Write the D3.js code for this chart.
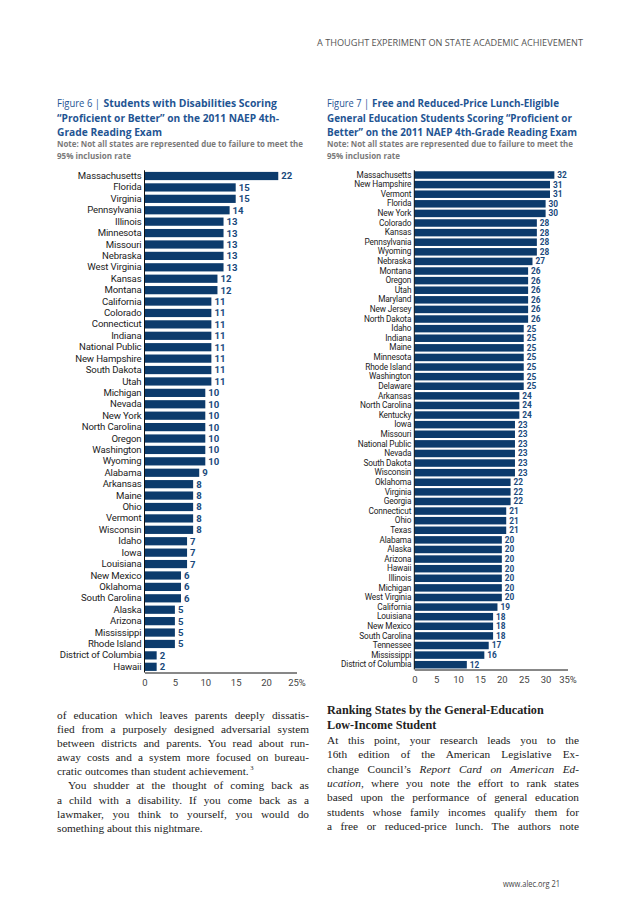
<!DOCTYPE html>
<html>
<head>
<meta charset="utf-8">
<script src="https://cdn.jsdelivr.net/npm/d3@7"></script>
<style>
  body { margin: 0; background: #fff; }
  svg { display: block; }
</style>
</head>
<body>
<svg width="638" height="912"></svg>
<script>
// Figure 6 data
const fig6States = ["Massachusetts", "Florida", "Virginia", "Pennsylvania", "Illinois", "Minnesota", "Missouri", "Nebraska", "West Virginia", "Kansas", "Montana", "California", "Colorado", "Connecticut", "Indiana", "National Public", "New Hampshire", "South Dakota", "Utah", "Michigan", "Nevada", "New York", "North Carolina", "Oregon", "Washington", "Wyoming", "Alabama", "Arkansas", "Maine", "Ohio", "Vermont", "Wisconsin", "Idaho", "Iowa", "Louisiana", "New Mexico", "Oklahoma", "South Carolina", "Alaska", "Arizona", "Mississippi", "Rhode Island", "District of Columbia", "Hawaii"];
const fig6Values = [22, 15, 15, 14, 13, 13, 13, 13, 13, 12, 12, 11, 11, 11, 11, 11, 11, 11, 11, 10, 10, 10, 10, 10, 10, 10, 9, 8, 8, 8, 8, 8, 7, 7, 7, 6, 6, 6, 5, 5, 5, 5, 2, 2];
const fig6Ticks = [0, 5, 10, 15, 20, 25];

// Figure 7 data
const fig7States = ["Massachusetts", "New Hampshire", "Vermont", "Florida", "New York", "Colorado", "Kansas", "Pennsylvania", "Wyoming", "Nebraska", "Montana", "Oregon", "Utah", "Maryland", "New Jersey", "North Dakota", "Idaho", "Indiana", "Maine", "Minnesota", "Rhode Island", "Washington", "Delaware", "Arkansas", "North Carolina", "Kentucky", "Iowa", "Missouri", "National Public", "Nevada", "South Dakota", "Wisconsin", "Oklahoma", "Virginia", "Georgia", "Connecticut", "Ohio", "Texas", "Alabama", "Alaska", "Arizona", "Hawaii", "Illinois", "Michigan", "West Virginia", "California", "Louisiana", "New Mexico", "South Carolina", "Tennessee", "Mississippi", "District of Columbia"];
const fig7Values = [32, 31, 31, 30, 30, 28, 28, 28, 28, 27, 26, 26, 26, 26, 26, 26, 25, 25, 25, 25, 25, 25, 25, 24, 24, 24, 23, 23, 23, 23, 23, 23, 22, 22, 22, 21, 21, 21, 20, 20, 20, 20, 20, 20, 20, 19, 18, 18, 18, 17, 16, 12];
const fig7Ticks = [0, 5, 10, 15, 20, 25, 30, 35];

const svg = d3.select("svg");
const navy = "#0c3b6c";
const titleBlue = "#1f5593";
const sans = "'Open Sans', 'Noto Sans', sans-serif";
const chartFont = "Roboto, 'Noto Sans', sans-serif";
const serif = "'Liberation Serif', 'DejaVu Serif', serif";

// fixed-width text line
const fitText = (x, y, txt, len, opts) => {
  const t = svg.append("text")
    .attr("x", x).attr("y", y)
    .attr("font-family", opts.family || sans)
    .attr("font-size", opts.size)
    .attr("font-weight", opts.weight || "normal")
    .attr("fill", opts.fill || "#222")
    .text(txt);
  if (len) t.attr("textLength", len).attr("lengthAdjust", "spacingAndGlyphs");
  return t;
};

// header and footer
fitText(317, 46, "A THOUGHT EXPERIMENT ON STATE ACADEMIC ACHIEVEMENT", 266, { size: 9, fill: "#555" });
fitText(503, 887, "www.alec.org  21", 57, { size: 9.5, fill: "#444" });

// figure titles
const title = (x, head, lines, lens, noteLines, noteLens) => {
  fitText(x, 107, head[0], head[1], { size: 11, fill: titleBlue });
  fitText(head[2], 107, head[3], head[4], { size: 11, weight: "bold", fill: titleBlue });
  lines.forEach((ln, i) => {
    fitText(x, 107 + (i + 1) * 14.7, ln, lens[i], { size: 11, weight: "bold", fill: titleBlue });
  });
  noteLines.forEach((ln, i) => {
    fitText(x, 147 + i * 11.5, ln, noteLens[i], { size: 8, weight: "bold", fill: "#7a7a7a" });
  });
};

title(57,
  ["Figure 6 |", 43, 103.5, "Students with Disabilities Scoring", 173.5],
  ["\u201CProficient or Better\u201D on the 2011 NAEP 4th-", "Grade Reading Exam"],
  [222, 105],
  ["Note: Not all states are represented due to failure to meet the", "95% inclusion rate"], [246, 74]);

title(327,
  ["Figure 7 |", 42, 372, "Free and Reduced-Price Lunch-Eligible", 187],
  ["General Education Students Scoring \u201CProficient or", "Better\u201D on the 2011 NAEP 4th-Grade Reading Exam"],
  [245, 250],
  ["Note: Not all states are represented due to failure to meet the", "95% inclusion rate"], [246, 73]);

// bar chart
const render = (states, values, ticks, x0, x1, yTop, yBot, pad, fs) => {
  const xScale = d3.scaleLinear()
    .domain([0, ticks[ticks.length - 1]])
    .range([x0, x1]);
  const yScale = d3.scaleBand()
    .domain(states)
    .range([yTop, yBot])
    .paddingInner(pad)
    .paddingOuter(pad / 2);

  const g = svg.append("g");

  g.selectAll("rect")
    .data(values)
    .enter()
    .append("rect")
    .attr("x", xScale(0))
    .attr("y", (d, i) => yScale(states[i]))
    .attr("width", (d) => xScale(d) - xScale(0))
    .attr("height", yScale.bandwidth())
    .attr("fill", navy);

  g.selectAll(".val")
    .data(values)
    .enter()
    .append("text")
    .attr("class", "val")
    .attr("x", (d) => xScale(d) + 3)
    .attr("y", (d, i) => yScale(states[i]) + yScale.bandwidth() / 2)
    .attr("dy", "0.36em")
    .attr("font-family", chartFont)
    .attr("font-size", fs)
    .attr("font-weight", "bold")
    .attr("fill", "#1a4a7c")
    .text((d) => d);

  // category axis
  const yAxisG = g.append("g")
    .attr("transform", `translate(${x0},0)`)
    .call(d3.axisLeft(yScale).tickSize(0).tickPadding(3));
  yAxisG.select(".domain").attr("stroke", "#111").attr("d", `M0,${yTop}V${yBot}`);
  yAxisG.selectAll("text")
    .attr("font-family", chartFont)
    .attr("font-size", fs)
    .attr("letter-spacing", "-0.15")
    .attr("fill", "#222");

  // value axis
  const xAxisG = g.append("g")
    .attr("transform", `translate(0,${yBot})`)
    .call(d3.axisBottom(xScale)
      .tickValues(ticks)
      .tickSize(0)
      .tickPadding(7)
      .tickFormat((d, i) => (i === ticks.length - 1 ? d + "%" : d)));
  xAxisG.select(".domain").attr("stroke", "#111");
  xAxisG.selectAll("text")
    .attr("font-family", chartFont)
    .attr("font-size", 9.5)
    .attr("fill", "#444");
};

render(fig6States, fig6Values, fig6Ticks, 144.5, 296.5, 170.3, 672.5, 0.28, 9.6);
render(fig7States, fig7Values, fig7Ticks, 414.3, 567.5, 170.2, 669.5, 0.22, 8.3);

// body text: justified lines get extra word spacing, or get squeezed if too long
const bodyLine = (x, y, parts, width, justify, opts = {}) => {
  const t = svg.append("text")
    .attr("x", x).attr("y", y)
    .attr("font-family", serif)
    .attr("font-size", opts.size || 11.3)
    .attr("font-weight", opts.weight || "normal")
    .attr("fill", "#222");
  parts.forEach((p) => {
    const part = typeof p === "string" ? { t: p } : p;
    const s = t.append("tspan").text(part.t);
    if (part.i) s.attr("font-style", "italic");
    if (part.sup) s.attr("font-size", 6.5).attr("dy", -4.5).attr("dx", 1.5);
  });
  if (!justify) return;
  const w = t.node().getComputedTextLength();
  const n = (t.text().match(/ /g) || []).length;
  if (w < width && n) {
    t.style("word-spacing", (width - w) / n + "px");
  } else if (w > width) {
    t.attr("textLength", width).attr("lengthAdjust", "spacingAndGlyphs");
  }
};

const leftLines = [
  ["of education which leaves parents deeply dissatis-"],
  ["fied from a purposely designed adversarial system"],
  ["between districts and parents. You read about run-"],
  ["away costs and a system more focused on bureau-"],
  ["cratic outcomes than student achievement.", { t: "3", sup: true }],
  ["You shudder at the thought of coming back as"],
  ["a child with a disability. If you come back as a"],
  ["lawmaker, you think to yourself, you would do"],
  ["something about this nightmare."]
];
const leftBase = [718.5, 732.8, 746.8, 760.8, 774.8, 789.3, 803.5, 817.5, 831.8];
leftLines.forEach((ln, i) => {
  const indent = i === 5 ? 11 : 0;
  bodyLine(57 + indent, leftBase[i], ln, 252 - indent, i !== 4 && i !== 8);
});

bodyLine(327, 714, ["Ranking States by the General-Education"], 0, false, { weight: "bold", size: 12.2 });
bodyLine(327, 729, ["Low-Income Student"], 0, false, { weight: "bold", size: 12.2 });

const rightLines = [
  ["At this point, your research leads you to the"],
  ["16th edition of the American Legislative Ex-"],
  ["change Council\u2019s ", { t: "Report Card on American Ed-", i: true }],
  [{ t: "ucation", i: true }, ", where you note the effort to rank states"],
  ["based upon the performance of general education"],
  ["students whose family incomes qualify them for"],
  ["a free or reduced-price lunch. The authors note"]
];
const rightBase = [744, 758.3, 772.6, 786.9, 801.2, 815.5, 829.8];
rightLines.forEach((ln, i) => {
  bodyLine(327, rightBase[i], ln, 252, true);
});
</script>
</body>
</html>
